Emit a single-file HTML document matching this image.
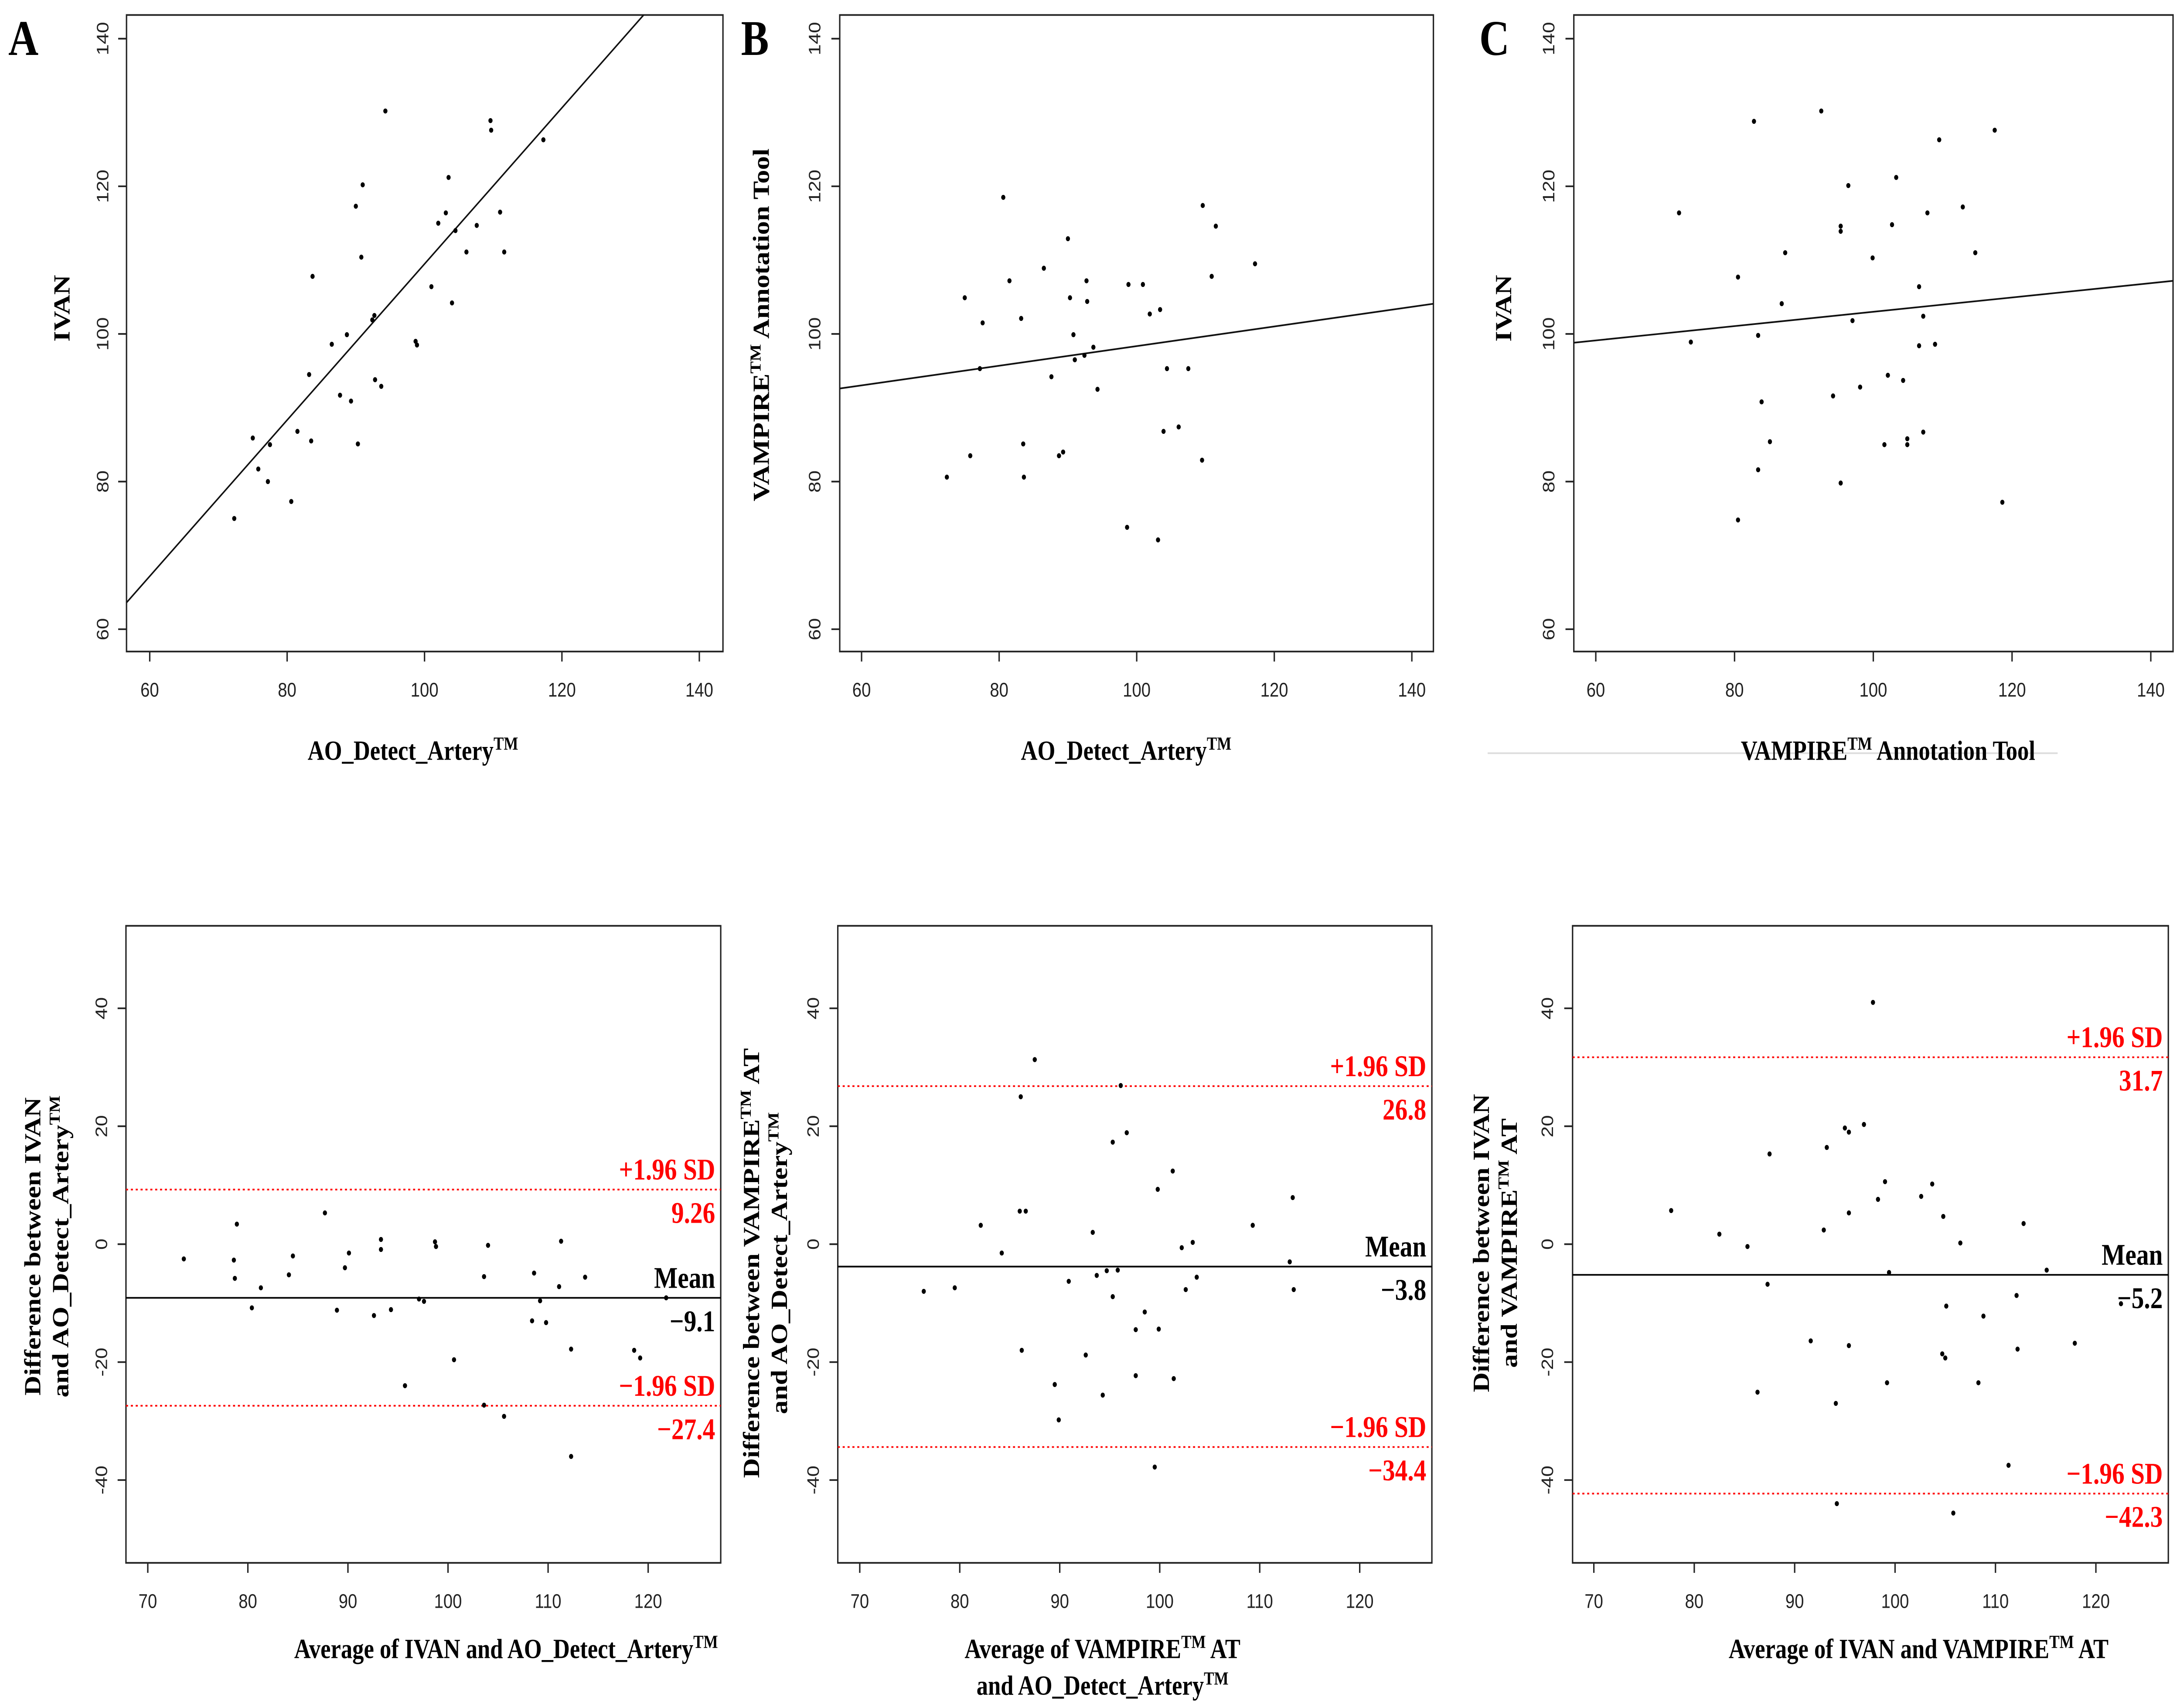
<!DOCTYPE html>
<html><head><meta charset="utf-8"><style>
html,body{margin:0;padding:0;background:#fff;width:100%;height:100%;overflow:hidden;}
svg{display:block;width:100vw;height:100vh;}
.tk{font-family:"Liberation Sans",sans-serif;font-size:12px;fill:#222;}
.lb{font-family:"Liberation Serif",serif;font-weight:bold;font-size:16.5px;fill:#000;}
.pl{font-family:"Liberation Serif",serif;font-weight:bold;font-size:30px;fill:#000;}
.an{font-family:"Liberation Serif",serif;font-weight:bold;font-size:18px;}
</style></head><body>
<svg id="fig" xmlns="http://www.w3.org/2000/svg" viewBox="0 0 1568 1025" preserveAspectRatio="none">
<rect width="1568" height="1025" fill="#fff"/>
<text class="pl" x="6" y="33">A</text>
<text class="pl" x="533" y="33">B</text>
<text class="pl" x="1064" y="33">C</text>
<line x1="1070" y1="452" x2="1480" y2="452" stroke="#ddd" stroke-width="1"/>
<text class="lb" x="297" y="456" text-anchor="middle">AO_Detect_Artery<tspan font-size="11" dy="-6">TM</tspan></text>
<text class="lb" x="810" y="456" text-anchor="middle">AO_Detect_Artery<tspan font-size="11" dy="-6">TM</tspan></text>
<text class="lb" x="1358" y="456" text-anchor="middle">VAMPIRE<tspan font-size="11" dy="-6">TM</tspan><tspan dy="6"> Annotation Tool</tspan></text>
<text class="lb" transform="translate(50,185) rotate(-90)" text-anchor="middle">IVAN</text>
<text class="lb" transform="translate(553,195) rotate(-90)" text-anchor="middle">VAMPIRE<tspan font-size="11" dy="-6">TM</tspan><tspan dy="6"> Annotation Tool</tspan></text>
<text class="lb" transform="translate(1087,185) rotate(-90)" text-anchor="middle">IVAN</text>
<text class="lb" transform="translate(29,748) rotate(-90)" text-anchor="middle">Difference between IVAN</text>
<text class="lb" transform="translate(49,748) rotate(-90)" text-anchor="middle">and AO_Detect_Artery<tspan font-size="11" dy="-6">TM</tspan></text>
<text class="lb" transform="translate(546,758) rotate(-90)" text-anchor="middle">Difference between VAMPIRE<tspan font-size="11" dy="-6">TM</tspan><tspan dy="6"> AT</tspan></text>
<text class="lb" transform="translate(566,758) rotate(-90)" text-anchor="middle">and AO_Detect_Artery<tspan font-size="11" dy="-6">TM</tspan></text>
<text class="lb" transform="translate(1071,746) rotate(-90)" text-anchor="middle">Difference between IVAN</text>
<text class="lb" transform="translate(1091,746) rotate(-90)" text-anchor="middle">and VAMPIRE<tspan font-size="11" dy="-6">TM</tspan><tspan dy="6"> AT</tspan></text>
<text class="lb" x="364" y="995" text-anchor="middle">Average of IVAN and AO_Detect_Artery<tspan font-size="11" dy="-6">TM</tspan></text>
<text class="lb" x="793" y="995" text-anchor="middle">Average of VAMPIRE<tspan font-size="11" dy="-6">TM</tspan><tspan dy="6"> AT</tspan></text>
<text class="lb" x="793" y="1017" text-anchor="middle">and AO_Detect_Artery<tspan font-size="11" dy="-6">TM</tspan></text>
<text class="lb" x="1380" y="995" text-anchor="middle">Average of IVAN and VAMPIRE<tspan font-size="11" dy="-6">TM</tspan><tspan dy="6"> AT</tspan></text>
</svg>
<script>
const aX=[94.3,109.6,109.7,117.3,103.5,91.0,90.0,103.1,111.0,102.0,107.6,104.5,106.1,111.6,90.8,83.7,101.0,104.0,92.7,92.4,88.7,86.5,98.7,98.9,83.2,92.8,93.7,87.7,89.3,75.0,77.5,81.5,83.5,90.3,75.8,77.2,80.6,72.3];
const aY=[130.2,128.9,127.6,126.3,121.2,120.2,117.3,116.4,116.5,115.0,114.7,114.0,111.1,111.1,110.4,107.8,106.4,104.2,102.5,101.9,99.9,98.6,99.0,98.5,94.5,93.8,92.9,91.7,90.9,85.9,85.0,86.8,85.5,85.1,81.7,80.0,77.3,75.0];
const aFit=[3.73,1.0575];
const bX=[80.6,109.6,111.5,90.0,117.2,86.5,110.9,81.5,92.7,98.8,100.9,75.0,90.3,92.8,103.4,101.9,83.2,77.6,90.8,93.7,92.4,91.0,77.2,104.4,107.5,87.6,94.3,106.1,103.9,83.5,89.3,88.7,75.8,109.5,72.4,83.6,98.6,103.1];
const bY=[118.5,117.4,114.6,112.9,109.5,108.9,107.8,107.2,107.2,106.7,106.7,104.9,104.9,104.4,103.3,102.7,102.1,101.5,99.9,98.2,97.1,96.5,95.3,95.3,95.3,94.2,92.5,87.4,86.8,85.1,84.0,83.5,83.5,82.9,80.6,80.6,73.8,72.1];
const bFit=[85.05,0.133];
const cX=[92.5,82.8,117.5,109.5,103.3,96.4,72.0,107.8,112.9,102.7,95.3,95.3,87.3,99.9,114.7,80.5,106.6,86.8,107.2,97.0,83.4,73.7,106.6,108.9,102.1,104.3,98.1,94.2,83.9,107.2,104.9,104.9,101.6,85.1,83.4,95.3,118.6,80.5];
const cY=[130.2,128.8,127.6,126.3,121.2,120.1,116.4,116.4,117.2,114.8,114.6,113.9,111.0,110.3,111.0,107.7,106.4,104.1,102.4,101.8,99.8,98.9,98.4,98.6,94.4,93.7,92.8,91.6,90.8,86.7,85.8,85.0,85.0,85.4,81.6,79.8,77.2,74.8];
const cFit=[93.3,0.097];
const dX=[73.6,78.9,78.6,78.7,80.4,81.3,84.1,84.5,87.7,88.9,89.7,90.1,92.6,93.3,93.3,94.3,95.7,97.1,97.6,98.7,98.8,100.6,103.6,103.6,104.0,105.6,108.4,108.6,109.2,109.8,111.1,111.3,112.3,112.3,113.7,118.6,119.2,121.8];
const dY=[-2.5,3.4,-2.7,-5.8,-10.8,-7.4,-5.2,-2.0,5.3,-11.2,-4.0,-1.5,-12.1,0.8,-0.9,-11.1,-24.0,-9.3,-9.7,0.4,-0.4,-19.6,-27.3,-5.5,-0.2,-29.2,-13.0,-4.9,-9.6,-13.3,-7.2,0.5,-36.0,-17.8,-5.6,-18.0,-19.3,-9.1];
const dStats=[-9.1,9.26,-27.4];
const eX=[87.5,86.1,96.1,96.7,95.3,101.3,99.8,113.3,86.0,86.6,82.1,109.3,93.3,103.3,102.2,84.2,113.0,95.8,94.7,93.7,103.7,90.9,79.5,76.4,102.6,113.4,95.3,98.5,97.6,99.9,86.2,92.6,97.6,101.4,89.5,94.3,89.9,99.5];
const eY=[31.3,25.0,26.9,18.9,17.3,12.4,9.3,7.9,5.6,5.6,3.2,3.2,2.0,0.3,-0.6,-1.5,-3.0,-4.4,-4.5,-5.3,-5.6,-6.3,-7.4,-8.0,-7.7,-7.7,-8.9,-11.5,-14.5,-14.4,-18.0,-18.8,-22.3,-22.8,-23.8,-25.6,-29.8,-37.8];
const eStats=[-3.8,26.8,-34.4];
const fX=[97.8,96.9,95.0,95.4,93.2,87.5,99.0,103.7,98.3,102.6,77.7,95.4,104.8,112.8,82.5,92.9,85.3,106.5,99.4,115.1,87.3,122.5,112.1,105.1,108.8,91.6,95.4,112.2,117.9,104.7,105.0,99.2,108.3,86.3,94.1,111.3,94.2,105.8];
const fY=[41.0,20.3,19.7,19.0,16.4,15.3,10.6,10.2,7.6,8.1,5.7,5.3,4.7,3.5,1.7,2.4,-0.4,0.2,-4.8,-4.4,-6.8,-10.1,-8.7,-10.5,-12.2,-16.4,-17.2,-17.8,-16.8,-18.6,-19.3,-23.5,-23.5,-25.1,-27.0,-37.5,-44.0,-45.6];
const fStats=[-5.2,31.7,-42.3];
const topTicks=[60,80,100,120,140];
const baXTicks=[70,80,90,100,110,120];
const baYTicks=[-40,-20,0,20,40];
const meanLabel=["Mean","+1.96 SD","\u22121.96 SD"];

const NS="http://www.w3.org/2000/svg";
const svg=document.getElementById('fig');
function el(tag,attrs,parent){const e=document.createElementNS(NS,tag);for(const k in attrs)e.setAttribute(k,attrs[k]);(parent||svg).appendChild(e);return e;}
function fmt(v){return v<0?"\u2212"+Math.abs(v):""+v;}

function panel(id,box,xs,ys,xt,yt,xTicks,yTicks){
  const g=el('g',{});
  
  
  const sx=v=>xs[1]+(v-xs[0])*(xs[3]-xs[1])/(xs[2]-xs[0]);
  const sy=v=>ys[1]+(v-ys[0])*(ys[3]-ys[1])/(ys[2]-ys[0]);
  const fr=el('rect',{x:box[0],y:box[1],width:box[2]-box[0],height:box[3]-box[1],fill:'none',stroke:'#222','stroke-width':1},g);
  
  
  xTicks.forEach(v=>{
    const t=el('line',{x1:sx(v),x2:sx(v),y1:box[3],y2:box[3]+6,stroke:'#222','stroke-width':1},g);
    
    
    const l=el('text',{x:sx(v),y:xt,'text-anchor':'middle',class:'tk'},g);
    l.textContent=v;
    
    
  });
  yTicks.forEach(v=>{
    const t=el('line',{x1:box[0],x2:box[0]-6,y1:sy(v),y2:sy(v),stroke:'#222','stroke-width':1},g);
    
    
    const l=el('text',{transform:'translate('+yt+','+sy(v)+') rotate(-90)','text-anchor':'middle',class:'tk'},g);
    l.textContent=v;
    
    
  });
  return {g,sx,sy};
}
function points(p,X,Y,id){
  X.forEach((x,i)=>{
    const c=el('circle',{cx:p.sx(x),cy:p.sy(Y[i]),r:1.5,fill:'#000'},p.g);
    
    
  });
}
function fit(p,box,f,id){
  const x0=(box[0]-p.sx(0))/(p.sx(1)-p.sx(0)), x1=(box[2]-p.sx(0))/(p.sx(1)-p.sx(0));
  const cp=el('clipPath',{id:'cl'+id},p.g);
  el('rect',{x:box[0],y:box[1],width:box[2]-box[0],height:box[3]-box[1]},cp);
  const l=el('line',{x1:p.sx(x0),y1:p.sy(f[0]+f[1]*x0),x2:p.sx(x1),y2:p.sy(f[0]+f[1]*x1),stroke:'#111','stroke-width':1,'clip-path':'url(#cl'+id+')'},p.g);
  
  
}
function ba(p,box,st,id){
  const names=['mean-line','upper-limit-line','lower-limit-line'];
  st.forEach((v,i)=>{
    const y=p.sy(v), col=i==0?'#000':'#f00';
    const l=el('line',{x1:box[0],x2:box[2],y1:y,y2:y,stroke:col,'stroke-width':1},p.g);
    if(i>0)l.setAttribute('stroke-dasharray','1.5 2');
    
    
    const t1=el('text',{x:box[2]-4,y:y-6,'text-anchor':'end',class:'an',fill:col},p.g);
    t1.textContent=meanLabel[i];
    
    
    const t2=el('text',{x:box[2]-4,y:y+20,'text-anchor':'end',class:'an',fill:col},p.g);
    t2.textContent=fmt(v);
    
    
  });
}
let bA=[91,9,520,391];
let pA=panel('a',bA,[60,107.7,140,503],[140,23.2,60,377.6],418,78,topTicks,topTicks);
fit(pA,bA,aFit,'a');points(pA,aX,aY,'a');
let bB=[604,9,1031,391];
let pB=panel('b',bB,[60,619.7,140,1015.5],[140,23.2,60,377.6],418,590,topTicks,topTicks);
fit(pB,bB,bFit,'b');points(pB,bX,bY,'b');
let bC=[1132,9,1563,391];
let pC=panel('c',bC,[60,1147.8,140,1547],[140,23.2,60,377.6],418,1118,topTicks,topTicks);
fit(pC,bC,cFit,'c');points(pC,cX,cY,'c');
let bD=[90.6,555.6,518.4,937.9];
let pD=panel('d',bD,[70,106.3,120,466.2],[40,605.1,-40,888.2],965,77,baXTicks,baYTicks);
ba(pD,bD,dStats,'d');points(pD,dX,dY,'d');
let bE=[602.6,555.6,1029.9,937.9];
let pE=panel('e',bE,[70,618.4,120,978],[40,605.1,-40,888.2],965,589,baXTicks,baYTicks);
ba(pE,bE,eStats,'e');points(pE,eX,eY,'e');
let bF=[1131.1,555.6,1559.6,937.9];
let pF=panel('f',bF,[70,1146.4,120,1507.5],[40,605.1,-40,888.2],965,1117,baXTicks,baYTicks);
ba(pF,bF,fStats,'f');points(pF,fX,fY,'f');
</script>
</body></html>
